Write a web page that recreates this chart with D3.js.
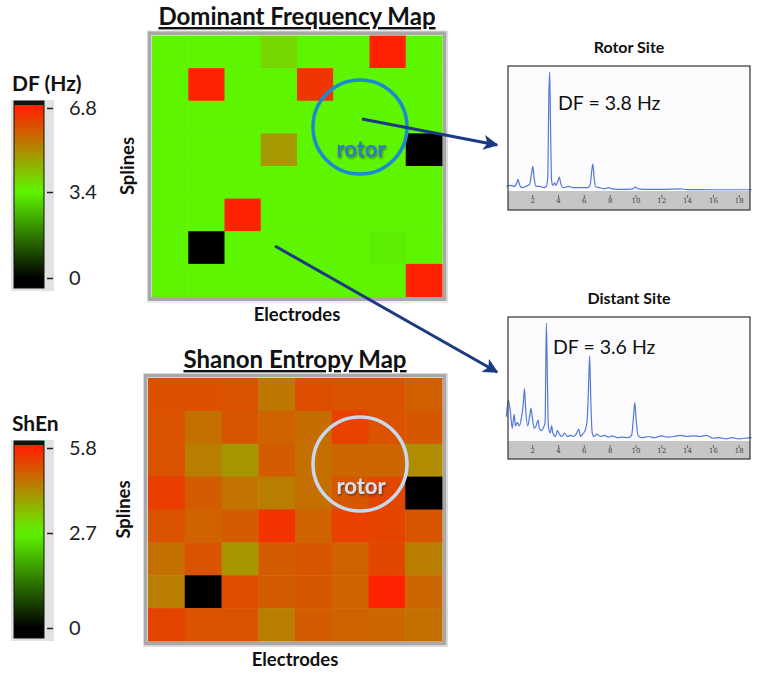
<!DOCTYPE html>
<html>
<head>
<meta charset="utf-8">
<script src="https://cdn.jsdelivr.net/npm/d3@7"></script>
<style>
  html, body { margin: 0; padding: 0; background: #fff; }
  svg { display: block; font-family: Lato, "Open Sans", sans-serif; }
</style>
</head>
<body>
<svg id="chart" width="762" height="676"></svg>
<script>
// --- data ---
const electrodes = d3.range(8);
const splines = d3.range(8);

// dominant frequency per cell (Hz), rows = splines, cols = electrodes
const dfValues = [
  [3.4, 3.4, 3.4, 3.9, 3.4, 3.4, 6.8, 3.4],
  [3.4, 6.8, 3.4, 3.4, 6.5, 3.4, 3.4, 3.4],
  [3.4, 3.4, 3.4, 3.4, 3.4, 3.4, 3.4, 3.4],
  [3.4, 3.4, 3.4, 4.9, 3.4, 3.4, 3.4, 0],
  [3.4, 3.4, 3.4, 3.4, 3.4, 3.4, 3.4, 3.4],
  [3.4, 3.4, 6.8, 3.4, 3.4, 3.4, 3.4, 3.4],
  [3.4, 0, 3.4, 3.4, 3.4, 3.4, 3.3, 3.4],
  [3.4, 3.4, 3.4, 3.4, 3.4, 3.4, 3.4, 6.8]
];

// Shannon entropy per cell
const shenValues = [
  [5.13, 5.13, 5.1, 4.55, 5.15, 5.1, 5.1, 4.9],
  [5.1, 4.65, 5.05, 4.85, 4.7, 5.35, 5.1, 5.0],
  [5.1, 4.45, 4.1, 4.95, 4.65, 4.8, 4.8, 4.25],
  [5.4, 4.95, 4.6, 4.45, 4.65, 5.0, 5.25, 0],
  [5.1, 4.85, 4.95, 5.55, 4.85, 5.35, 5.3, 5.05],
  [4.65, 5.1, 4.1, 4.95, 5.05, 4.85, 5.25, 4.45],
  [4.45, 0, 5.15, 4.95, 5.0, 4.85, 5.8, 4.8],
  [5.3, 5.1, 5.1, 4.45, 4.95, 4.85, 4.8, 4.65]
];

const dfTicks = [0, 3.4, 6.8];
const shenTicks = [0, 2.7, 5.8];

// spectra (Hz, normalised power)
const rotorFreq = [0, 0.3, 0.6, 0.8, 0.9, 1.0, 1.2, 1.5, 1.8, 1.95, 2.05, 2.15, 2.3, 2.6, 2.9, 3.1, 3.2, 3.3, 3.35, 3.4, 3.5, 3.6, 3.75, 3.85, 4.0, 4.1, 4.2, 4.4, 4.8, 5.2, 5.6, 6.0, 6.3, 6.5, 6.6, 6.7, 6.8, 6.9, 7.2, 7.6, 7.9, 8.2, 9.0, 9.8, 10.0, 10.2, 11.0, 12.0, 13.5, 14.0, 16.0, 19.0];
const rotorAmp  = [0.03, 0.04, 0.03, 0.06, 0.09, 0.05, 0.02, 0.03, 0.05, 0.14, 0.2, 0.1, 0.03, 0.03, 0.02, 0.03, 0.1, 0.85, 1.0, 0.7, 0.08, 0.04, 0.06, 0.04, 0.08, 0.11, 0.06, 0.02, 0.03, 0.02, 0.02, 0.02, 0.02, 0.05, 0.15, 0.22, 0.1, 0.03, 0.02, 0.01, 0.02, 0.01, 0.005, 0.01, 0.025, 0.01, 0.005, 0.005, 0.01, 0.003, 0.002, 0.002];

const distantFreq = [0.0, 0.15, 0.3, 0.45, 0.6, 0.7, 0.85, 1.0, 1.15, 1.3, 1.4, 1.5, 1.65, 1.8, 1.9, 2.0, 2.15, 2.3, 2.45, 2.55, 2.7, 2.85, 3.0, 3.05, 3.1, 3.18, 3.25, 3.4, 3.5, 3.6, 3.8, 3.95, 4.1, 4.3, 4.5, 4.7, 5.0, 5.2, 5.4, 5.6, 5.75, 5.9, 6.1, 6.25, 6.35, 6.45, 6.55, 6.65, 6.8, 7.0, 7.3, 7.6, 7.9, 8.2, 8.6, 9.0, 9.4, 9.7, 9.85, 9.95, 10.05, 10.2, 10.5, 11.0, 11.5, 12.0, 12.5, 13.0, 13.5, 14.0, 14.5, 15.0, 15.5, 16.0, 16.5, 17.0, 17.5, 18.0, 18.5, 19.0];
const distantAmp  = [0.2, 0.34, 0.25, 0.1, 0.22, 0.12, 0.15, 0.12, 0.18, 0.3, 0.44, 0.25, 0.12, 0.2, 0.27, 0.2, 0.1, 0.12, 0.17, 0.1, 0.08, 0.1, 0.15, 0.6, 1.0, 0.5, 0.12, 0.06, 0.12, 0.06, 0.03, 0.08, 0.05, 0.03, 0.06, 0.03, 0.04, 0.03, 0.05, 0.09, 0.03, 0.05, 0.08, 0.16, 0.4, 0.72, 0.3, 0.06, 0.03, 0.05, 0.03, 0.04, 0.025, 0.035, 0.02, 0.025, 0.02, 0.04, 0.2, 0.32, 0.18, 0.04, 0.02, 0.03, 0.02, 0.035, 0.025, 0.03, 0.04, 0.03, 0.035, 0.03, 0.04, 0.015, 0.02, 0.01, 0.02, 0.01, 0.015, 0.02];

const freqTicks = [2, 4, 6, 8, 10, 12, 14, 16, 18];

// --- setup ---
const svg = d3.select('#chart');
const defs = svg.append('defs');

const navy = '#1b3a82';
defs.append('marker')
  .attr('id', 'arrow')
  .attr('viewBox', '0 0 10 10')
  .attr('refX', 9).attr('refY', 5)
  .attr('markerWidth', 5).attr('markerHeight', 5)
  .attr('orient', 'auto')
  .append('path')
  .attr('d', 'M0,0 L10,5 L0,10 L2.5,5 Z')
  .attr('fill', navy);

const shadow = defs.append('filter').attr('id', 'shadow')
  .attr('x', '-20%').attr('y', '-20%').attr('width', '140%').attr('height', '140%');
shadow.append('feDropShadow').attr('dx', 1).attr('dy', 1.5)
  .attr('stdDeviation', 0.8).attr('flood-color', '#000').attr('flood-opacity', 0.45);

function makeColor(ticks) {
  return d3.scaleLinear().domain(ticks)
    .range(['#000000', '#5ef500', '#ff2200'])
    .interpolate(d3.interpolateRgb).clamp(true);
}

// --- colour bar ---
function drawColorBar(opts) {
  const { id, title, ticks, top, bottom, tickY } = opts;
  const color = makeColor(ticks);
  const g = svg.append('g');

  g.append('text').attr('x', 12).attr('y', top - 10)
    .attr('font-size', 21).attr('font-weight', 700).attr('fill', '#111')
    .text(title);

  g.append('rect').attr('x', 11).attr('y', top - 1)
    .attr('width', 43).attr('height', bottom - top + 4).attr('fill', '#e2e2e2');

  const grad = defs.append('linearGradient').attr('id', id)
    .attr('x1', 0).attr('y1', 1).attr('x2', 0).attr('y2', 0);
  const y = d3.scaleLinear().domain(ticks).range(tickY);
  d3.range(0, 1.0001, 0.05).forEach(t => {
    const v = ticks[0] + t * (ticks[2] - ticks[0]);
    grad.append('stop')
      .attr('offset', (bottom - y(v)) / (bottom - top))
      .attr('stop-color', color(v));
  });

  g.append('rect').attr('x', 14).attr('y', top)
    .attr('width', 30).attr('height', bottom - top)
    .attr('fill', `url(#${id})`).attr('stroke', '#111').attr('stroke-width', 1);
  g.append('rect').attr('x', 14).attr('y', top)
    .attr('width', 30).attr('height', 4).attr('fill', '#111');

  const axis = d3.axisRight(y).tickValues(ticks).tickSize(6).tickPadding(16)
    .tickFormat(d => d === 0 ? '0' : d3.format('.1f')(d));
  const ag = g.append('g').attr('transform', 'translate(47,0)').call(axis);
  ag.select('.domain').remove();
  ag.selectAll('.tick line').attr('stroke', '#222').attr('stroke-width', 1.5);
  ag.selectAll('.tick text').attr('font-size', 20).attr('fill', '#222')
    .attr('font-family', 'Lato, "Open Sans", sans-serif');
}

// --- heat map ---
function drawMap(opts) {
  const { values, ticks, x0, x1, y0, y1, title, titleY, labelY, circle, circleColor, rotorColor } = opts;
  const color = makeColor(ticks);
  const x = d3.scaleBand().domain(electrodes).range([x0, x1]);
  const y = d3.scaleBand().domain(splines).range([y0, y1]);
  const g = svg.append('g');

  g.append('text').attr('x', (x0 + x1) / 2).attr('y', titleY)
    .attr('text-anchor', 'middle').attr('font-size', 24).attr('font-weight', 700)
    .attr('fill', '#111').style('text-decoration', 'underline')
    .text(title);

  // frame
  g.append('rect').attr('x', x0 - 2.5).attr('y', y0 - 2.5)
    .attr('width', x1 - x0 + 5).attr('height', y1 - y0 + 5)
    .attr('fill', 'none').attr('stroke', '#a8a8a8').attr('stroke-width', 4);
  g.append('rect').attr('x', x0 - 4.5).attr('y', y0 - 4.5)
    .attr('width', x1 - x0 + 10).attr('height', y1 - y0 + 10)
    .attr('fill', 'none').attr('stroke', '#dcdcdc').attr('stroke-width', 1);

  const cells = [];
  values.forEach((row, r) => row.forEach((v, c) => cells.push({ r, c, v })));
  g.selectAll('rect.cell').data(cells).join('rect')
    .attr('class', 'cell')
    .attr('x', d => x(d.c)).attr('y', d => y(d.r))
    .attr('width', x.bandwidth() + 0.5).attr('height', y.bandwidth() + 0.5)
    .attr('fill', d => color(d.v));

  g.append('text')
    .attr('transform', `translate(${x0 - 18},${(y0 + y1) / 2}) rotate(-90)`)
    .attr('text-anchor', 'middle').attr('font-size', 18.5).attr('font-weight', 700)
    .attr('fill', '#111').text('Splines');

  g.append('text').attr('x', (x0 + x1) / 2).attr('y', labelY)
    .attr('text-anchor', 'middle').attr('font-size', 18.5).attr('font-weight', 700)
    .attr('fill', '#111').text('Electrodes');

  g.append('circle').attr('cx', circle[0]).attr('cy', circle[1]).attr('r', circle[2])
    .attr('fill', 'none').attr('stroke', circleColor).attr('stroke-width', 3.5);
  g.append('text').attr('x', circle[0] + 1).attr('y', circle[1] + circle[3])
    .attr('text-anchor', 'middle').attr('font-size', 22).attr('font-weight', 700)
    .attr('fill', rotorColor).attr('filter', 'url(#shadow)').text('rotor');
}

// --- spectrum panel ---
function drawSpectrum(opts) {
  const { freq, amp, x0, x1, y0, y1, band, title, label, labelX, labelY } = opts;
  const g = svg.append('g');
  const x = d3.scaleLinear().domain([0, 19]).range([x0 - 1.6, x1 + 1.6]);
  const y = d3.scaleLinear().domain([0, 1]).range([y1 - band - 1, y0 + 6]);

  g.append('text').attr('x', (x0 + x1) / 2).attr('y', y0 - 13)
    .attr('text-anchor', 'middle').attr('font-size', 16).attr('font-weight', 700)
    .attr('fill', '#111').text(title);

  g.append('rect').attr('x', x0).attr('y', y0).attr('width', x1 - x0).attr('height', y1 - y0)
    .attr('fill', '#fbfbfe');
  g.append('rect').attr('x', x0).attr('y', y1 - band).attr('width', x1 - x0).attr('height', band)
    .attr('fill', '#c6c6c6');

  const axis = d3.axisTop(x).tickValues(freqTicks).tickSize(3).tickPadding(-11);
  const ag = g.append('g').attr('transform', `translate(0,${y1 - band + 4})`).call(axis);
  ag.select('.domain').remove();
  ag.selectAll('.tick line').attr('stroke', '#666').attr('transform', 'translate(0,3)');
  ag.selectAll('.tick text').attr('font-size', 7).attr('fill', '#444')
    .attr('font-family', '"DejaVu Serif", serif');

  const pts = freq.map((f, i) => [f, amp[i]]);
  g.append('path').datum(pts)
    .attr('d', d3.line().x(d => x(d[0])).y(d => y(d[1])).curve(d3.curveMonotoneX))
    .attr('fill', 'none').attr('stroke', '#5578d8').attr('stroke-width', 1.2);

  g.append('rect').attr('x', x0).attr('y', y0).attr('width', x1 - x0).attr('height', y1 - y0)
    .attr('fill', 'none').attr('stroke', '#333').attr('stroke-width', 1.2);

  g.append('text').attr('x', labelX).attr('y', labelY)
    .attr('font-size', 19.5).attr('fill', '#111').text(label);
}

// --- draw ---
drawColorBar({ id: 'dfGrad', title: 'DF (Hz)', ticks: dfTicks, top: 101, bottom: 288, tickY: [278, 192, 108] });
drawColorBar({ id: 'shenGrad', title: 'ShEn', ticks: shenTicks, top: 441, bottom: 638, tickY: [628, 533, 448] });

drawMap({
  values: dfValues, ticks: dfTicks, x0: 152, x1: 442, y0: 35.5, y1: 296.5,
  title: 'Dominant Frequency Map', titleY: 25, labelY: 321,
  circle: [360, 127, 47, 30], circleColor: '#1a8ad4', rotorColor: '#2f7cc0'
});
drawMap({
  values: shenValues, ticks: shenTicks, x0: 148, x1: 442, y0: 378, y1: 641,
  title: 'Shanon Entropy Map', titleY: 368, labelY: 666,
  circle: [360, 464, 47, 30], circleColor: '#c9d8ee', rotorColor: '#d4e0f2'
});

drawSpectrum({
  freq: rotorFreq, amp: rotorAmp, x0: 508, x1: 750, y0: 66, y1: 210, band: 19,
  title: 'Rotor Site', label: 'DF = 3.8 Hz', labelX: 558, labelY: 110
});
drawSpectrum({
  freq: distantFreq, amp: distantAmp, x0: 508, x1: 750, y0: 317, y1: 459, band: 18,
  title: 'Distant Site', label: 'DF = 3.6 Hz', labelX: 553, labelY: 354
});

// arrows from map sites to spectra
const arrows = [
  [[362, 119], [497, 145]],
  [[275, 246], [497, 372]]
];
svg.append('g').selectAll('line').data(arrows).join('line')
  .attr('x1', d => d[0][0]).attr('y1', d => d[0][1])
  .attr('x2', d => d[1][0]).attr('y2', d => d[1][1])
  .attr('stroke', navy).attr('stroke-width', 3)
  .attr('marker-end', 'url(#arrow)');
</script>
</body>
</html>
